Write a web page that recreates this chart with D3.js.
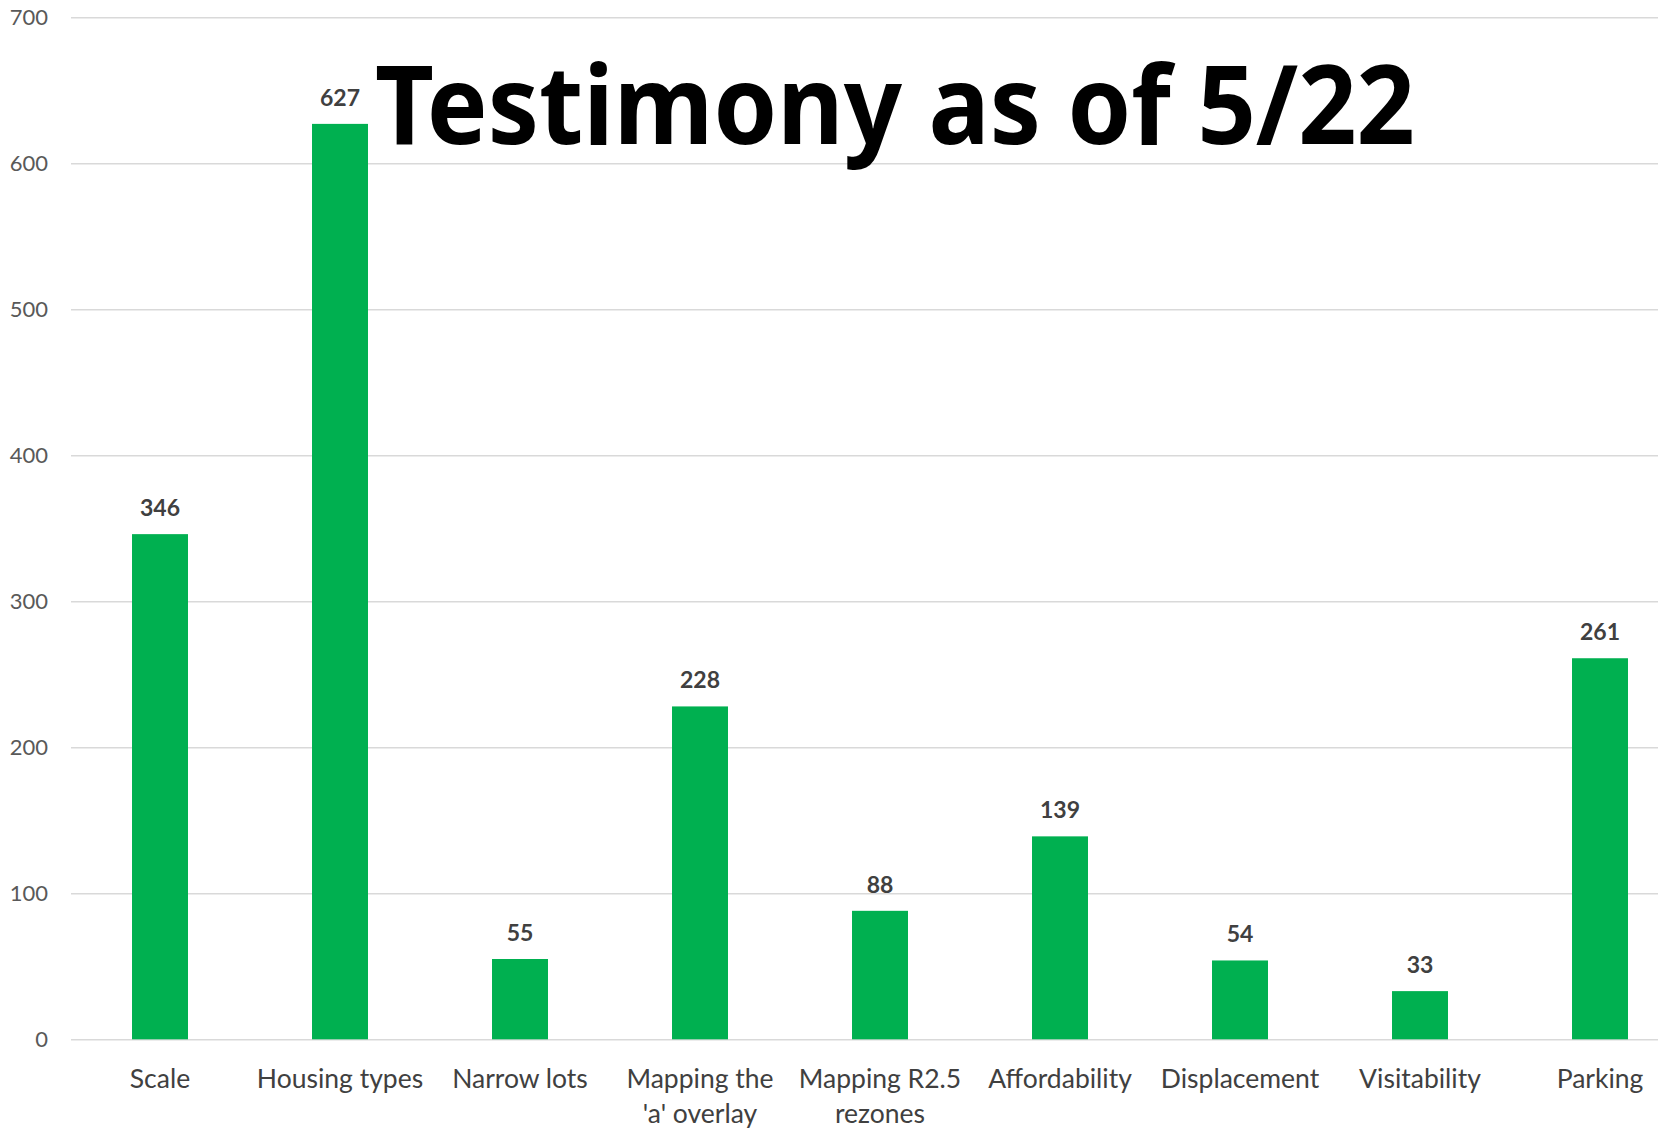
<!DOCTYPE html>
<html lang="en">
<head>
  <meta charset="UTF-8">
  <title>Testimony as of 5/22</title>
  <style>
  body {
    margin: 0;
    background: white;
    overflow: hidden;
  }
  .grid line {
    stroke: #d9d9d9;
    stroke-width: 1.5;
  }
  .grid path {
    display: none;
  }
  .grid text {
    fill: #595959;
    font-family: Lato, sans-serif;
    font-size: 22px;
  }
  .cats path, .cats line {
    display: none;
  }
  .cats text {
    fill: #404040;
    font-family: Lato, sans-serif;
    font-size: 26.5px;
  }
  .value {
    fill: #404040;
    font-family: Lato, sans-serif;
    font-size: 23px;
    font-weight: bold;
  }
  .title {
    fill: #000;
    font-family: "Noto Sans", sans-serif;
    font-weight: bold;
    font-size: 109px;
  }
  </style>
</head>
<body>
  <script src="https://d3js.org/d3.v7.min.js"></script>
  <script>

  var categories = ['Scale', 'Housing types', 'Narrow lots', "Mapping the\n'a' overlay",
                    'Mapping R2.5\nrezones', 'Affordability', 'Displacement', 'Visitability', 'Parking'];
  var values = [346, 627, 55, 228, 88, 139, 54, 33, 261];
  var yTicks = [0, 100, 200, 300, 400, 500, 600, 700];
  var title = 'Testimony as of 5/22';

  var width = 1658;
  var height = 1135;

  var svg = d3.select('body').append('svg')
              .attr('width', width)
              .attr('height', height);

  var x = d3.scaleBand()
            .domain(categories)
            .range([70, 1690])
            .paddingInner(0.689)
            .paddingOuter(0.3445);

  var y = d3.scaleLinear()
            .domain([0, 700])
            .range([1039.3, 17.3]);

  // gridlines + value axis labels
  svg.append('g')
     .attr('class', 'grid')
     .attr('transform', 'translate(70,0)')
     .call(d3.axisLeft(y)
             .tickValues(yTicks)
             .tickSize(-1620)
             .tickPadding(22))
     .selectAll('line')
     .attr('x1', 1);

  svg.selectAll('.bar')
     .data(values)
     .enter()
     .append('rect')
     .attr('class', 'bar')
     .attr('x', function (d, i) { return x(categories[i]); })
     .attr('y', function (d) { return y(d); })
     .attr('width', x.bandwidth())
     .attr('height', function (d) { return y(0) - y(d); })
     .attr('fill', '#00b050');

  svg.selectAll('.value')
     .data(values)
     .enter()
     .append('text')
     .attr('class', 'value')
     .attr('text-anchor', 'middle')
     .attr('x', function (d, i) { return x(categories[i]) + x.bandwidth() / 2; })
     .attr('y', function (d) { return y(d) - 18; })
     .text(function (d) { return d; });

  // category labels, split on line breaks
  var cats = svg.append('g')
                .attr('class', 'cats')
                .attr('transform', 'translate(0,' + y(0) + ')')
                .call(d3.axisBottom(x).tickSize(0).tickPadding(0));

  cats.selectAll('text')
      .attr('y', 0)
      .attr('dy', null)
      .text(null)
      .each(function (d) {
        var t = d3.select(this);
        d.split('\n').forEach(function (line, k) {
          t.append('tspan')
           .attr('x', 0)
           .attr('y', 49 + k * 35)
           .text(line);
        });
      });

  svg.append('text')
     .attr('class', 'title')
     .attr('x', 375)
     .attr('y', 144)
     .attr('textLength', 1040)
     .attr('lengthAdjust', 'spacingAndGlyphs')
     .text(title);

  </script>
</body>
</html>
